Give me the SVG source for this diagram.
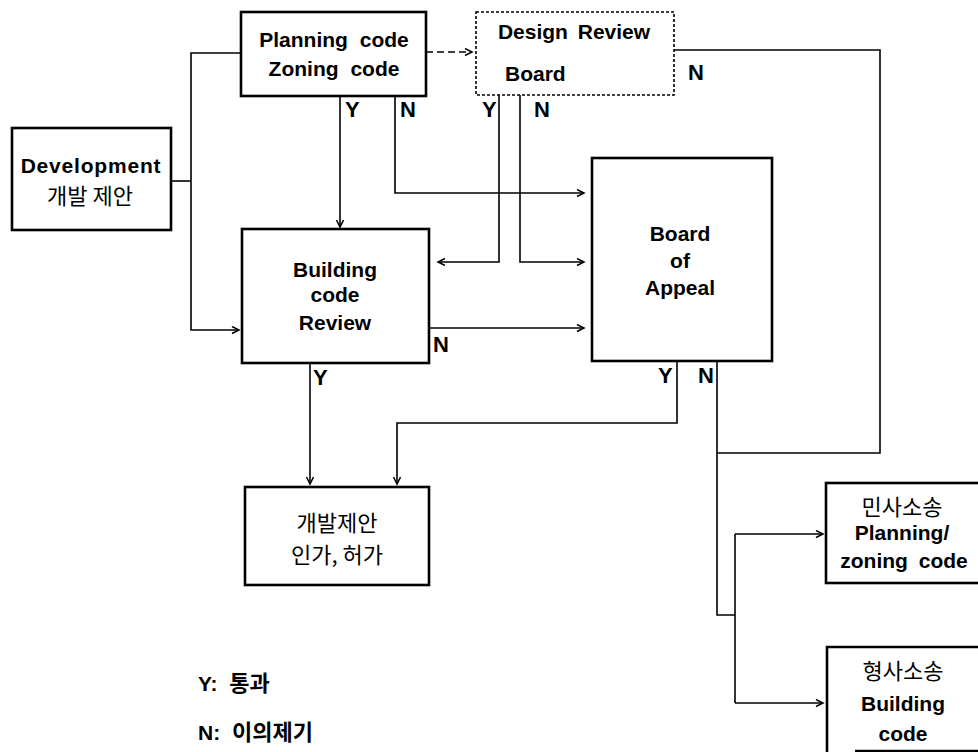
<svg xmlns="http://www.w3.org/2000/svg" width="978" height="752" viewBox="0 0 978 752">
<defs>
<marker id="arr" markerUnits="userSpaceOnUse" markerWidth="10" markerHeight="10" refX="8" refY="4" orient="auto">
<path d="M1,0.5 L8,4 L1,7.5" fill="none" stroke="#000" stroke-width="1.5"/>
</marker>
</defs>
<style>
.box{fill:#fff;stroke:#000;stroke-width:2.6}
.dbox{fill:#fff;stroke:#000;stroke-width:1.6;stroke-dasharray:3 2}
.ln{fill:none;stroke:#000;stroke-width:1.6}
.t{font-family:"Liberation Sans","Noto Sans CJK KR",sans-serif;font-weight:bold;font-size:21px;fill:#000}
.k{font-family:"Noto Sans CJK KR","Liberation Sans",sans-serif;font-weight:normal;font-size:22px;fill:#000}
.kb{font-family:"Noto Sans CJK KR","Liberation Sans",sans-serif;font-weight:bold;font-size:22px;fill:#000}
.lab{font-family:"Liberation Sans",sans-serif;font-weight:bold;font-size:22px;fill:#000}
</style>
<rect width="978" height="752" fill="#fff"/>

<g id="connectors">
<path class="ln" d="M171,181 H191"/>
<path class="ln" d="M241,53 H191 V330 H239" marker-end="url(#arr)"/>
<path class="ln" d="M426,52 H472" stroke-dasharray="7 4" marker-end="url(#arr)"/>
<path class="ln" d="M340,96 V227" marker-end="url(#arr)"/>
<path class="ln" d="M395,96 V193 H584" marker-end="url(#arr)"/>
<path class="ln" d="M499,95 V262 H438" marker-end="url(#arr)"/>
<path class="ln" d="M520,95 V262 H584" marker-end="url(#arr)"/>
<path class="ln" d="M674,50 H880 V453 H717"/>
<path class="ln" d="M429,328 H584" marker-end="url(#arr)"/>
<path class="ln" d="M310,363 V484" marker-end="url(#arr)"/>
<path class="ln" d="M677,361 V423 H397 V484" marker-end="url(#arr)"/>
<path class="ln" d="M717,361 V615 H735"/>
<path class="ln" d="M735,534 V703"/>
<path class="ln" d="M735,534 H823" marker-end="url(#arr)"/>
<path class="ln" d="M735,703 H823" marker-end="url(#arr)"/>
</g>

<g id="development">
<rect class="box" x="12" y="128" width="159" height="102"/>
<text class="t" x="91" y="173" text-anchor="middle" letter-spacing="0.8">Development</text>
<text class="k" x="90" y="204" text-anchor="middle">개발 제안</text>
</g>

<g id="planning">
<rect class="box" x="241" y="12" width="185" height="84"/>
<text class="t" x="334" y="47" text-anchor="middle" word-spacing="6">Planning code</text>
<text class="t" x="334" y="76" text-anchor="middle" word-spacing="6">Zoning code</text>
</g>

<g id="design-review">
<rect class="dbox" x="476" y="12" width="198" height="83"/>
<text class="t" x="574" y="39" text-anchor="middle" word-spacing="4">Design Review</text>
<text class="t" x="505" y="81">Board</text>
</g>

<g id="building-review">
<rect class="box" x="242" y="229" width="187" height="134"/>
<text class="t" x="335" y="277" text-anchor="middle">Building</text>
<text class="t" x="335" y="302" text-anchor="middle">code</text>
<text class="t" x="335" y="330" text-anchor="middle">Review</text>
</g>

<g id="board-of-appeal">
<rect class="box" x="592" y="158" width="180" height="203"/>
<text class="t" x="680" y="241" text-anchor="middle">Board</text>
<text class="t" x="680" y="268" text-anchor="middle">of</text>
<text class="t" x="680" y="295" text-anchor="middle">Appeal</text>
</g>

<g id="approval">
<rect class="box" x="245" y="487" width="184" height="98"/>
<text class="k" x="337" y="531" text-anchor="middle">개발제안</text>
<text class="k" x="337" y="563" text-anchor="middle">인가, 허가</text>
</g>

<g id="civil-suit">
<rect class="box" x="826" y="483" width="170" height="100"/>
<text class="k" x="902" y="515" text-anchor="middle">민사소송</text>
<text class="t" x="902" y="540" text-anchor="middle">Planning/</text>
<text class="t" x="904" y="568" text-anchor="middle" word-spacing="5">zoning code</text>
</g>

<g id="criminal-suit">
<path class="box" fill="none" d="M990,647 H827 V760 M855,751 H990"/>
<text class="k" x="903" y="679" text-anchor="middle">형사소송</text>
<text class="t" x="903" y="711" text-anchor="middle">Building</text>
<text class="t" x="903" y="741" text-anchor="middle">code</text>
</g>

<g id="labels">
<text class="lab" x="345" y="117">Y</text>
<text class="lab" x="400" y="117">N</text>
<text class="lab" x="482" y="117">Y</text>
<text class="lab" x="534" y="117">N</text>
<text class="lab" x="688" y="80">N</text>
<text class="lab" x="433" y="352">N</text>
<text class="lab" x="313" y="385">Y</text>
<text class="lab" x="658" y="383">Y</text>
<text class="lab" x="698" y="383">N</text>
</g>

<g id="legend">
<text x="198" y="691"><tspan class="t">Y: </tspan><tspan class="kb" dx="6">통과</tspan></text>
<text x="198" y="740"><tspan class="t">N: </tspan><tspan class="kb" dx="6">이의제기</tspan></text>
</g>
</svg>
